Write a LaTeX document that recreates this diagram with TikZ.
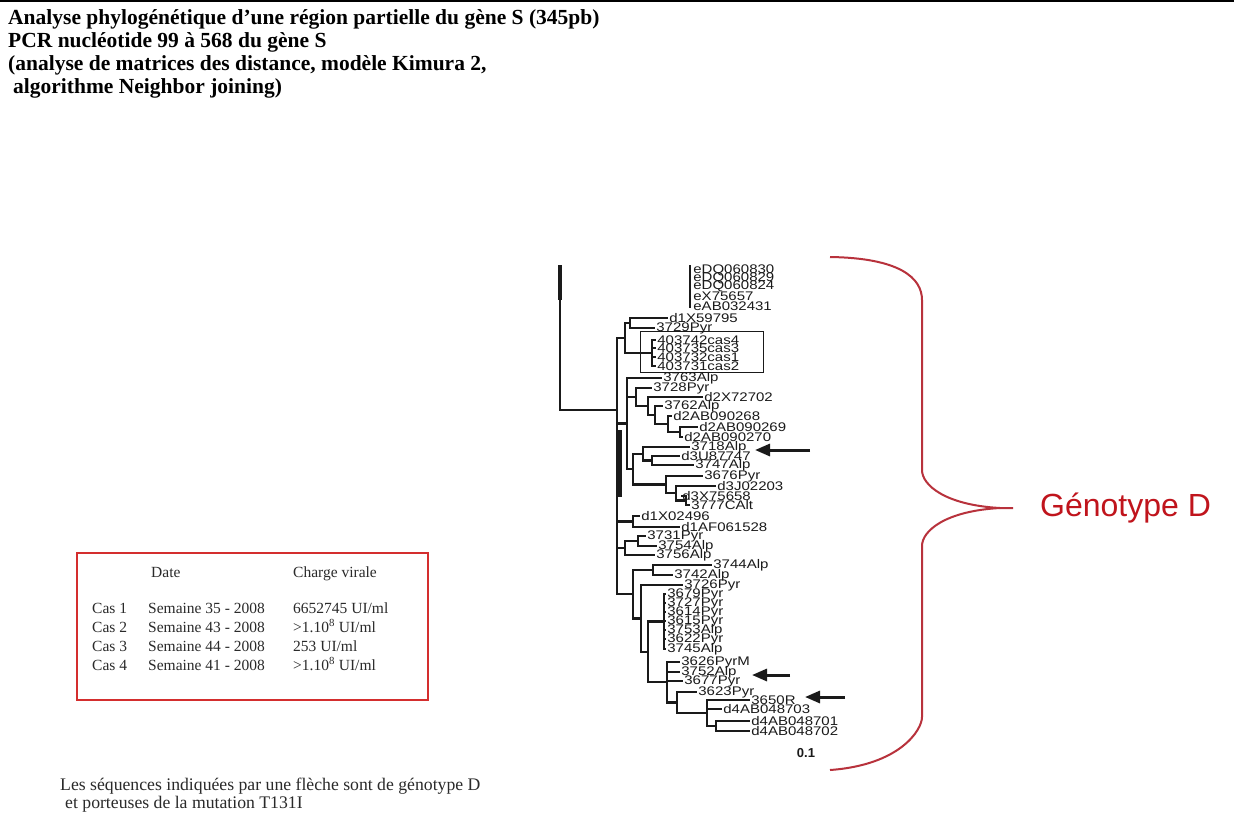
\documentclass[tikz,border=0pt]{standalone}
\usepackage{fontspec}
\usepackage{graphicx}
\setmainfont{Liberation Serif}
\newfontfamily\arialf{Liberation Sans}
\usetikzlibrary{arrows.meta}
\definecolor{boxred}{HTML}{D42E2E}
\definecolor{bracered}{HTML}{B8323C}
\definecolor{genred}{HTML}{C0141C}
\definecolor{ink}{HTML}{1A1A1A}
\definecolor{txt}{HTML}{2A2A2A}
\newcommand\widelbl[1]{\scalebox{1.2}[1]{#1}}
\tikzset{
  br/.style={draw=ink, line width=2.3pt, line join=miter},
  leaf/.style={anchor=west, inner sep=0pt, xshift=1.2pt, text=ink, font=\arialf\fontsize{12.5}{12.5}\selectfont},
  ttl/.style={anchor=base west, inner sep=0pt, text=black, font=\fontsize{21.5}{23}\selectfont\bfseries},
  tab/.style={anchor=base west, inner sep=0pt, text=txt, font=\fontsize{15.5}{17}\selectfont},
  note/.style={anchor=base west, inner sep=0pt, text=txt, font=\fontsize{17.7}{20}\selectfont},
  arr/.style={draw=ink, line width=3pt, -{Triangle[length=15pt,width=12pt]}},
}
\begin{document}
\begin{tikzpicture}[x=1pt,y=-1pt]
\useasboundingbox (0,0) rectangle (1234,823);
\fill[white] (0,0) rectangle (1234,823);
% top rule
\coordinate (topL) at (0,1.2);
\coordinate (topR) at (1234,1.2);
\draw[line width=2.2pt, black] (topL) -- (topR);

% title
\node[ttl] (title1) at (8,24) {Analyse phylogénétique d’une région partielle du gène S (345pb)};
\node[ttl] (title2) at (8,47) {PCR nucléotide 99 à 568 du gène S};
\node[ttl] (title3) at (8,70) {(analyse de matrices des distance, modèle Kimura 2,};
\node[ttl] (title4) at (13,93) {algorithme Neighbor joining)};

% table
\draw[boxred, line width=2.6pt] (77,553) rectangle (428,700);
\node[tab] (hDate) at (151,577) {Date};
\node[tab] (hCharge) at (293,577) {Charge virale};
\foreach \r/\yy/\w/\c in {1/613/35/{6652745 UI/ml},2/632/43/{>1.10\textsuperscript{8} UI/ml},3/651/44/{253 UI/ml},4/670/41/{>1.10\textsuperscript{8} UI/ml}}{
  \node[tab] (cas\r) at (92,\yy) {Cas \r};
  \node[tab] (sem\r) at (148,\yy) {Semaine \w\ - 2008};
  \node[tab] (val\r) at (293,\yy) {\c};
}

% note
\node[note] (note1) at (60,790) {Les séquences indiquées par une flèche sont de génotype D};
\node[note] (note2) at (65,808) {et porteuses de la mutation T131I};

% ---------------- tree ----------------
% genotype E group (zero-length)
\coordinate (eTop) at (690,265);
\coordinate (eBot) at (690,308);
\draw[br] (eTop) -- (eBot);
\foreach \i/\y/\t in {1/270/eDQ060830,2/278/eDQ060829,3/286/eDQ060824,4/296/eX75657,5/306/eAB032431}{
  \coordinate (t\i) at (692,\y);
  \node[leaf] (l\i) at (t\i) {\widelbl{\t}};
}
% leaves
\foreach \i/\x/\y/\t in {
 6/668/318/d1X59795, 7/655/328/3729Pyr,
 8/656/340/403742cas4, 9/656/348/403735cas3, 10/656/357/403732cas1, 11/656/366/403731cas2,
 12/662/378/3763Alp, 13/652/388/3728Pyr, 14/703/397/d2X72702, 15/663/406/3762Alp,
 16/672/416/d2AB090268, 17/698/427/d2AB090269, 18/683/437/d2AB090270,
 19/690/447/3718Alp, 20/680/456/d3U87747, 21/694/465/3747Alp,
 22/703/476/3676Pyr, 23/716/486/d3J02203, 24/681/496/d3X75658, 25/690/505/3777CAlt,
 26/640/516/d1X02496, 27/680/527/d1AF061528,
 28/646/536/3731Pyr, 29/657/546/3754Alp, 30/655/555/3756Alp,
 31/712/565/3744Alp, 32/673/575/3742Alp, 33/683/585/3726Pyr,
 34/666/594/3679Pyr, 35/666/603/3727Pyr, 36/666/612/3614Pyr, 37/666/621/3615Pyr,
 38/666/630/3753Alp, 39/666/639/3622Pyr, 40/666/649/3745Alp,
 41/680/662/3626PyrM, 42/680/672/3752Alp, 43/683/681/3677Pyr, 44/697/692/3623Pyr,
 45/750/700/3650R, 46/722/709/d4AB048703, 47/750/721/d4AB048701, 48/750/731/d4AB048702}{
  \coordinate (t\i) at (\x,\y);
  \node[leaf] (l\i) at (t\i) {\widelbl{\t}};
}
% internal nodes
\coordinate (N) at (617,410);
\coordinate (A1) at (630,323);
\coordinate (Cas) at (652,353);
\coordinate (B) at (625,338);
\coordinate (C2d) at (680,432);
\coordinate (C2c) at (668,424);
\coordinate (C2b) at (655,415);
\coordinate (C2a) at (648,406);
\coordinate (C2) at (636,397);
\coordinate (C3a) at (652,460.5);
\coordinate (C3) at (643,453.75);
\coordinate (C5b) at (686,500.5);
\coordinate (C5a) at (676,493.25);
\coordinate (C5) at (666,484.6);
\coordinate (C4) at (633,469.2);
\coordinate (C) at (627,423.6);
\coordinate (D) at (633,521.5);
\coordinate (Ea) at (638,541);
\coordinate (E) at (625,548);
\coordinate (F1) at (653,570);
\coordinate (F4) at (664,621.5);
\coordinate (G3) at (716,726);
\coordinate (G2) at (707,713);
\coordinate (G1) at (677,702.5);
\coordinate (G) at (667,682);
\coordinate (F3) at (648,651.75);
\coordinate (F2) at (641,618.4);
\coordinate (F) at (633,594.2);
% root
\coordinate (R0) at (560,265);
\coordinate (R1) at (560,300);
\draw[br] (R0) |- (N);
\draw[ink, line width=4.5pt] (R0) -- (R1);
% branches
\foreach \p/\c in {N/B, N/C, N/D, N/E, N/F,
  B/A1, B/Cas, A1/t6, A1/t7, Cas/t8, Cas/t9, Cas/t10, Cas/t11,
  C/t12, C/C2, C/C4, C2/t13, C2/C2a, C2a/t14, C2a/C2b, C2b/t15, C2b/C2c, C2c/t16, C2c/C2d, C2d/t17, C2d/t18,
  C4/C3, C4/C5, C3/t19, C3/C3a, C3a/t20, C3a/t21, C5/t22, C5/C5a, C5a/t23, C5a/C5b, C5b/t24, C5b/t25,
  D/t26, D/t27, E/Ea, E/t30, Ea/t28, Ea/t29,
  F/F1, F/F2, F1/t31, F1/t32, F2/t33, F2/F3, F3/F4, F3/G,
  F4/t34, F4/t35, F4/t36, F4/t37, F4/t38, F4/t39, F4/t40,
  G/t41, G/t42, G/t43, G/G1, G1/t44, G1/G2, G2/t45, G2/t46, G2/G3, G3/t47, G3/t48}{
  \draw[br] (\p) |- (\c);
}
% thick backbone segment
\coordinate (K1) at (619.5,430);
\coordinate (K2) at (619.5,497);
\draw[ink, line width=4pt] (K1) -- (K2);
% box around cas sequences
\draw[ink, line width=0.9pt] (640,331) rectangle (763,372);
% arrows
\coordinate (a1s) at (810,450); \coordinate (a1e) at (755,450);
\coordinate (a2s) at (790,675); \coordinate (a2e) at (752,675);
\coordinate (a3s) at (845,697); \coordinate (a3e) at (805,697);
\draw[arr] (a1s) -- (a1e);
\draw[arr] (a2s) -- (a2e);
\draw[arr] (a3s) -- (a3e);
% scale
\node[inner sep=0pt, text=ink, font=\arialf\bfseries\fontsize{13}{13}\selectfont] (scale) at (806,753) {0.1};

% brace
\coordinate (bTop) at (830,257);
\coordinate (bTip) at (1000,508);
\coordinate (bBot) at (830,770);
\coordinate (bEnd) at (1013,508);
\draw[bracered, line width=2pt, line join=round] (bTop) .. controls (900,258) and (922,278) .. (922,300) -- (922,470)
  .. controls (922,485) and (945,505) .. (bTip) -- (bEnd);
\draw[bracered, line width=2pt, line join=round] (bTip) .. controls (945,511) and (922,531) .. (922,546) -- (922,717)
  .. controls (922,730) and (900,765) .. (bBot);
\node[anchor=west, inner sep=0pt, text=genred, font=\arialf\fontsize{32}{32}\selectfont] (geno) at (1040,508) {Génotype D};
\end{tikzpicture}
\end{document}
